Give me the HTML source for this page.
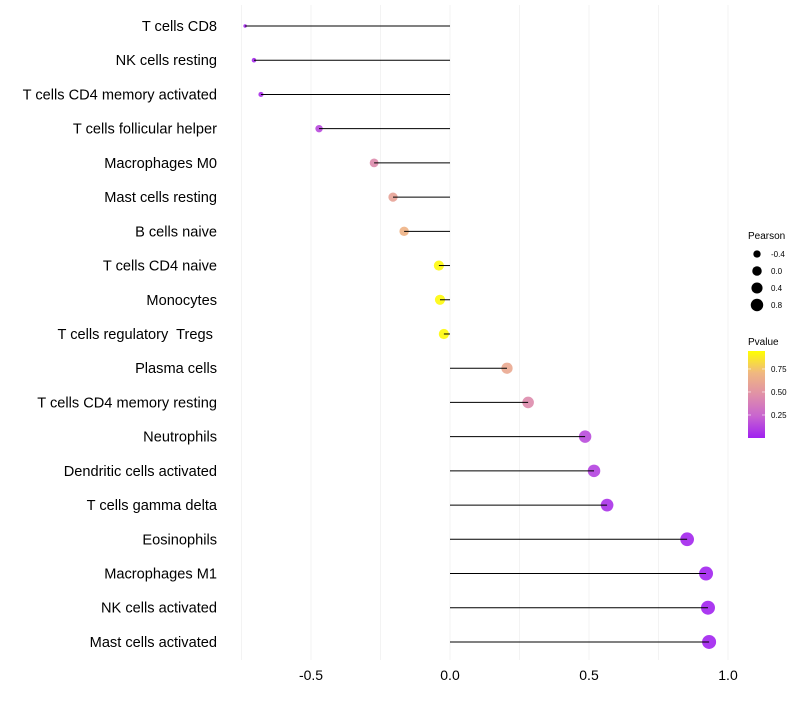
<!DOCTYPE html>
<html><head><meta charset="utf-8"><style>
body{margin:0;background:#fff;font-family:"Liberation Sans",sans-serif}
svg text{font-family:"Liberation Sans",sans-serif;white-space:pre}
</style></head><body>
<svg id="c" width="800" height="700"></svg>
<script>
const categories=["T cells CD8","NK cells resting","T cells CD4 memory activated","T cells follicular helper","Macrophages M0","Mast cells resting","B cells naive","T cells CD4 naive","Monocytes","T cells regulatory  Tregs ","Plasma cells","T cells CD4 memory resting","Neutrophils","Dendritic cells activated","T cells gamma delta","Eosinophils","Macrophages M1","NK cells activated","Mast cells activated"];
const pearson=[-0.737,-0.705,-0.68,-0.471,-0.273,-0.205,-0.165,-0.04,-0.036,-0.022,0.205,0.281,0.486,0.518,0.565,0.853,0.921,0.928,0.932];
const pvalue=[0.02,0.03,0.05,0.14,0.45,0.58,0.68,0.93,0.93,0.93,0.62,0.45,0.15,0.12,0.06,0.02,0.01,0.01,0.01];
const xTicks=[-0.5,0,0.5,1.0];
const xTickLabels=["-0.5","0.0","0.5","1.0"];
const sizeLegend=[-0.4,0.0,0.4,0.8];
const sizeLegendLabels=["-0.4","0.0","0.4","0.8"];
const colorLegend=[0.25,0.5,0.75];
const colorLegendLabels=["0.25","0.50","0.75"];

const NS="http://www.w3.org/2000/svg",svg=document.getElementById('c');
function mk(t,a,p){const e=document.createElementNS(NS,t);for(const k in a)e.setAttribute(k,a[k]);(p||svg).appendChild(e);return e;}
const x=v=>450+v*278;
const y=i=>26+i*34.22;
const r=v=>1.5+5.5*Math.sqrt(Math.max(0,(v+0.74)/1.67));
const stops=[[0,[160,32,240]],[0.25,[200,100,208]],[0.5,[224,144,168]],[0.75,[240,184,128]],[1,[255,255,0]]];
function col(p){let t=Math.max(0,Math.min(1,p/0.95));for(let i=1;i<stops.length;i++){if(t<=stops[i][0]){const a=stops[i-1],b=stops[i],f=(t-a[0])/(b[0]-a[0]);return 'rgb('+a[1].map((c,j)=>Math.round(c+(b[1][j]-c)*f)).join(',')+')';}}return 'rgb(255,255,0)';}
for(let v=-0.75;v<=1.01;v+=0.25){const g=mk('line',{x1:x(v),x2:x(v),y1:5,y2:660,stroke:'#f3f3f3','stroke-width':1});

}
xTicks.forEach((v,i)=>{const t=mk('text',{x:x(v),y:680,'text-anchor':'middle','font-size':14,fill:'#000'});t.textContent=xTickLabels[i];

});
categories.forEach((c,i)=>{
const t=mk('text',{x:217,y:y(i)+5,'text-anchor':'end','font-size':14.6,fill:'#000'});t.textContent=c;


const p=mk('circle',{cx:x(pearson[i]),cy:y(i),r:r(pearson[i]),fill:col(pvalue[i]),'fill-opacity':0.9});


const l=mk('line',{x1:x(0),x2:x(pearson[i]),y1:y(i),y2:y(i),stroke:'#000','stroke-width':1});


});
let t=mk('text',{x:748,y:239,'font-size':10});t.textContent='Pearson';


sizeLegend.forEach((v,i)=>{const yy=254+i*17;
const c=mk('circle',{cx:757,cy:yy,r:r(v)*0.92,fill:'#000'});


const tt=mk('text',{x:771,y:yy+3,'font-size':8});tt.textContent=sizeLegendLabels[i];

});
t=mk('text',{x:748,y:345,'font-size':10});t.textContent='Pvalue';


const defs=mk('defs',{});const lg=mk('linearGradient',{id:'g',x1:0,y1:1,x2:0,y2:0},defs);
stops.forEach(s=>mk('stop',{offset:s[0],'stop-color':'rgb('+s[1].join(',')+')'},lg));
const bar=mk('rect',{x:748,y:351,width:17,height:87,fill:'url(#g)'});


const cy=p=>438-p*(87/0.945);
colorLegend.forEach((v,i)=>{mk('line',{x1:748,x2:751,y1:cy(v),y2:cy(v),stroke:'#fff','stroke-opacity':0.6});mk('line',{x1:762,x2:765,y1:cy(v),y2:cy(v),stroke:'#fff','stroke-opacity':0.6});
const tt=mk('text',{x:771,y:cy(v)+3,'font-size':8});tt.textContent=colorLegendLabels[i];

});
</script>
</body></html>
